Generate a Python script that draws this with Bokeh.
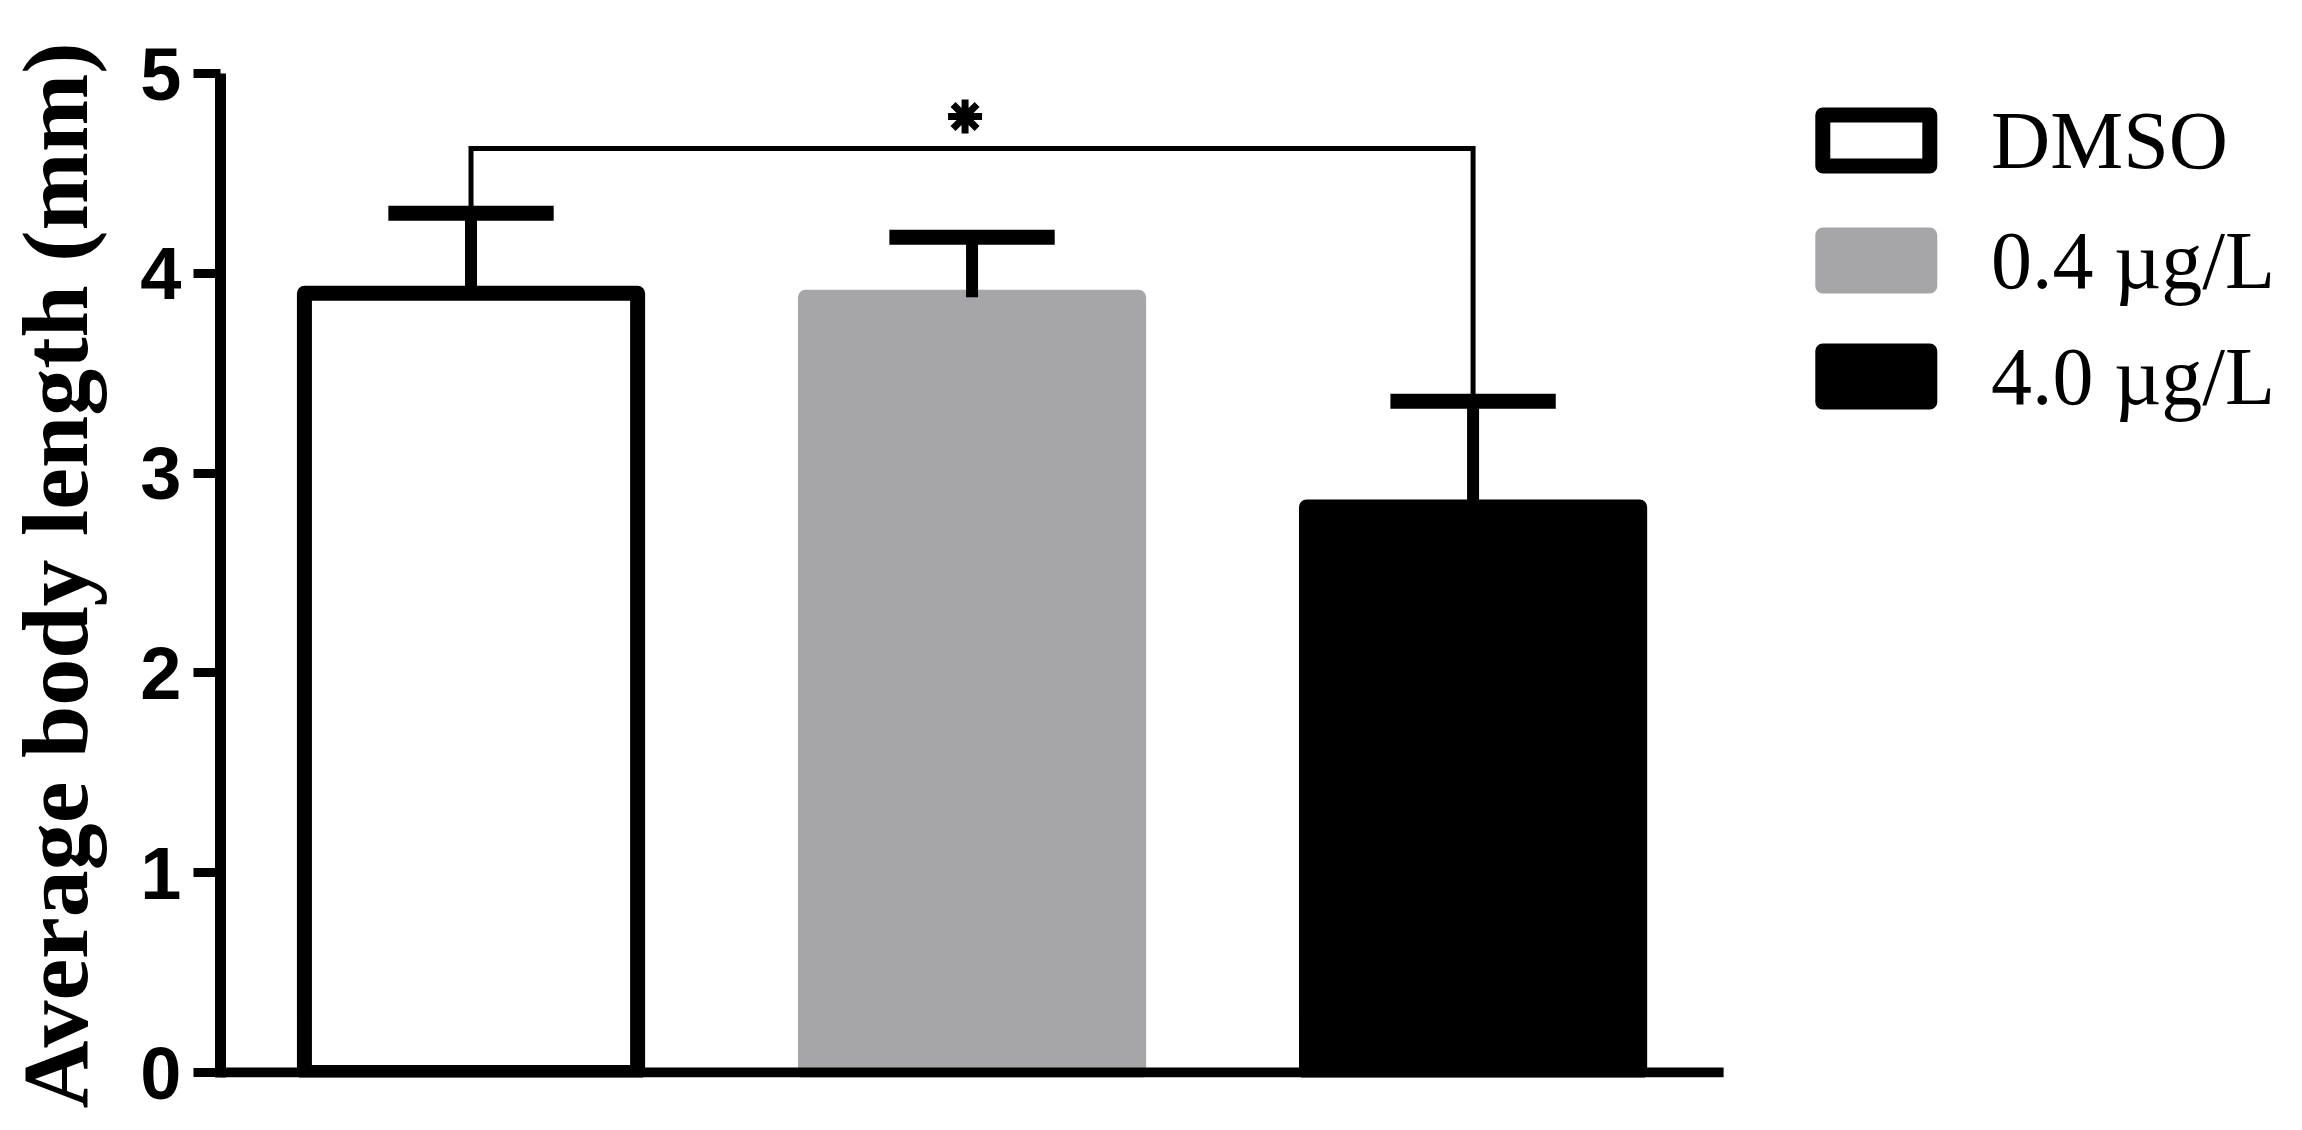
from bokeh.plotting import figure
from bokeh.models import Range1d, FixedTicker, Label
from bokeh.embed import file_html
from bokeh.resources import INLINE

# ---- data ----
groups = ["DMSO", "0.4 µg/L", "4.0 µg/L"]
means = [3.90, 3.88, 2.83]
upper = [4.30, 4.18, 3.36]
fill_colors = ["#FFFFFF", "#A6A6A9", "#000000"]
line_colors = ["#000000", "#A6A6A9", "#000000"]
y_ticks = [0, 1, 2, 3, 4, 5]
y_label = "Average body length (mm)"
sig_pair = (0, 2)
sig_level = 4.625

# ---- layout (pixels) ----
W, H = 2286, 1114
FRAME_L = 216          # left edge of plotting area
AXIS_R = 1722          # right end of the x-axis line
TOP = 73               # pixel of y = 5
ZERO = 1072            # pixel of y = 0
BASE_HALF = 5          # half thickness of the baseline
ppu_x = (AXIS_R - FRAME_L) / len(groups)
ppu_y = (ZERO - TOP) / y_ticks[-1]
x_start = 0.5
x_end = x_start + (W - FRAME_L) / ppu_x
y_start = -BASE_HALF / ppu_y


def dx(px):
    return x_start + (px - FRAME_L) / ppu_x


def dy(py):
    return (ZERO - py) / ppu_y


p = figure(width=W, height=H, output_backend="svg", toolbar_location=None,
           x_range=Range1d(x_start, x_end), y_range=Range1d(y_start, y_ticks[-1]),
           min_border_left=FRAME_L, min_border_right=0,
           min_border_top=TOP, min_border_bottom=H - ZERO - BASE_HALF)
p.outline_line_color = None
p.xgrid.visible = False
p.ygrid.visible = False
p.xaxis.visible = False

x = [float(i + 1) for i in range(len(groups))]
BAR_W = 0.665
for i in range(len(groups)):
    p.vbar(x=[x[i]], top=[means[i]], bottom=0, width=BAR_W,
           fill_color=fill_colors[i], line_color=line_colors[i],
           line_width=15, line_join="round")

# x baseline (category axis line)
p.segment(x0=[x_start], y0=[0], x1=[x[-1] + 0.5], y1=[0], line_color="black", line_width=10)

# error bars
cap = 0.165
p.segment(x0=x, y0=means, x1=x, y1=upper, line_color="black", line_width=12)
p.segment(x0=[v - cap for v in x], y0=upper, x1=[v + cap for v in x], y1=upper,
          line_color="black", line_width=15)

# significance bracket and star (star drawn as an asterisk marker)
a, b = sig_pair
p.line(x=[x[a], x[a], x[b], x[b]], y=[upper[a], sig_level, sig_level, upper[b]],
       line_color="black", line_width=5, line_join="miter")
p.scatter(x=[(x[a] + x[b]) / 2.0 - 7 / ppu_x], y=[sig_level + 32 / ppu_y],
          marker="asterisk", size=34, line_color="black", line_width=7)

# y axis
yax = p.yaxis[0]
yax.ticker = FixedTicker(ticks=y_ticks)
yax.axis_line_width = 11
yax.major_tick_line_width = 9
yax.major_tick_out = 27
yax.major_tick_in = 0
yax.minor_tick_line_color = None
yax.major_label_standoff = 12
yax.major_label_text_font = "Liberation Sans"
yax.major_label_text_font_style = "bold"
yax.major_label_text_font_size = "74px"
yax.major_label_text_color = "black"
yax.axis_label = y_label
yax.axis_label_text_font = "Liberation Serif"
yax.axis_label_text_font_style = "bold"
yax.axis_label_text_font_size = "94px"
yax.axis_label_text_color = "black"
yax.axis_label_standoff = 30

# legend (drawn by hand)
LEG_BOX_CX = 1875
LEG_TEXT_X = 1990
LEG_ROWS = [140, 260, 376]
p.rect(x=[dx(LEG_BOX_CX)] * len(groups), y=[dy(r) for r in LEG_ROWS],
       width=107, height=51, width_units="screen", height_units="screen",
       fill_color=fill_colors, line_color=line_colors, line_width=15, line_join="round")
for i, g in enumerate(groups):
    p.add_layout(Label(x=dx(LEG_TEXT_X), y=dy(LEG_ROWS[i]), text=g,
                       text_font="Liberation Serif", text_font_size="82px",
                       text_align="left", text_baseline="middle", text_color="black"))

open("out.html", "w").write(file_html(p, INLINE))
